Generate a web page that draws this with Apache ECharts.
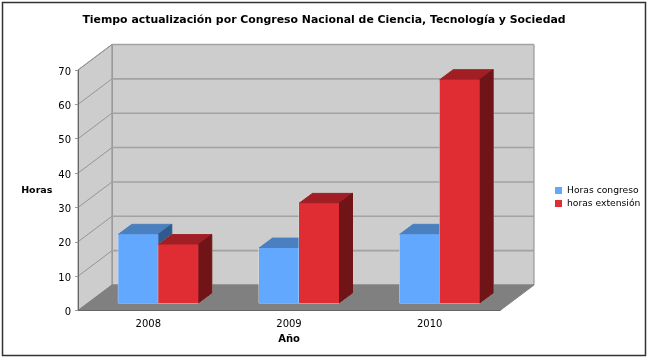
<!DOCTYPE html>
<html>
<head>
<meta charset="utf-8">
<style>
  html, body { margin: 0; padding: 0; background: #fff; }
  #main { width: 648px; height: 357px; }
</style>
<script src="https://cdn.jsdelivr.net/npm/echarts@6/dist/echarts.min.js"></script>
</head>
<body>
<div id="main"></div>
<script>
const years = ['2008', '2009', '2010'];
const horasCongreso = [20, 16, 20];
const horasExtension = [17, 29, 65];
const yTicks = [0, 10, 20, 30, 40, 50, 60, 70];

const font = '"DejaVu Sans", Verdana, sans-serif';
// depth of the fake 3d box and of the bars inside it
const boxDx = 34, boxDy = -25.5;
const barW = 40, barDx = 13.5, barDy = -10;
const barOffX = 10, barOffY = -7.5;

function renderBox(params, api) {
  const c = params.coordSys;
  const l = c.x, r = c.x + c.width, t = c.y, b = c.y + c.height;
  const poly = (pts, fill, stroke) => ({
    type: 'polygon',
    shape: {points: pts},
    style: {fill: fill, stroke: stroke, lineWidth: 1},
  });
  return {
    type: 'group',
    children: [
      poly([[l + boxDx, t + boxDy], [r + boxDx, t + boxDy], [r + boxDx, b + boxDy], [l + boxDx, b + boxDy]], '#cdcdcd', '#8a8a8a'),
      poly([[l, t], [l + boxDx, t + boxDy], [l + boxDx, b + boxDy], [l, b]], '#cdcdcd', '#8a8a8a'),
      poly([[l, b], [l + boxDx, b + boxDy], [r + boxDx, b + boxDy], [r, b]], '#808080', '#808080'),
    ],
  };
}

function renderGridLine(params, api) {
  const c = params.coordSys;
  const y = api.coord([0, api.value(0)])[1];
  if (api.value(0) === 0) return null;
  return {
    type: 'group',
    children: [
      {type: 'line', shape: {x1: c.x, y1: y, x2: c.x + boxDx, y2: y + boxDy}, style: {stroke: '#959595', lineWidth: 1}},
      {type: 'line', shape: {x1: c.x + boxDx, y1: y + boxDy, x2: c.x + c.width + boxDx, y2: y + boxDy}, style: {stroke: '#a2a2a2', lineWidth: 1.6}},
    ],
  };
}

function barRenderer(side, front, top, dark) {
  return function (params, api) {
    const p = api.coord([api.value(0), api.value(1)]);
    const base = api.coord([api.value(0), 0]);
    const x0 = p[0] + barOffX + (side < 0 ? -barW : 0);
    const x1 = x0 + barW;
    const yt = p[1] + barOffY;
    const yb = base[1] + barOffY;
    const poly = (pts, fill, stroke) => ({
      type: 'polygon',
      shape: {points: pts},
      style: {fill: fill, stroke: stroke, lineWidth: 1},
    });
    return {
      type: 'group',
      children: [
        poly([[x0, yt], [x0 + barDx, yt + barDy], [x1 + barDx, yt + barDy], [x1 + barDx, yb + barDy], [x1, yb], [x0, yb]], null, 'rgba(225,238,238,0.75)'),
        poly([[x0, yt], [x1, yt], [x1 + barDx, yt + barDy], [x0 + barDx, yt + barDy]], top, top),
        poly([[x1, yt], [x1 + barDx, yt + barDy], [x1 + barDx, yb + barDy], [x1, yb]], dark, dark),
        {type: 'rect', shape: {x: x0, y: yt, width: barW, height: yb - yt}, style: {fill: front}},
      ],
    };
  };
}

const chart = echarts.init(document.getElementById('main'), null, {renderer: 'canvas'});
chart.setOption({
  animation: false,
  backgroundColor: '#fff',
  title: {
    text: 'Tiempo actualización por Congreso Nacional de Ciencia, Tecnología y Sociedad',
    left: 'center',
    top: 10,
    textStyle: {fontFamily: font, fontSize: 10.9, fontWeight: 'bold', color: '#000'},
  },
  legend: {
    data: ['Horas congreso', 'horas extensión'],
    orient: 'vertical',
    left: 555,
    top: 186,
    padding: 0,
    itemWidth: 7,
    itemHeight: 7,
    itemGap: 4,
    icon: 'rect',
    textStyle: {fontFamily: font, fontSize: 9.2, color: '#000'},
  },
  grid: {left: 78, top: 70, width: 422, height: 240.5},
  xAxis: {
    type: 'category',
    data: years,
    name: 'Año',
    nameLocation: 'middle',
    nameGap: 22,
    nameTextStyle: {fontFamily: font, fontSize: 10, fontWeight: 'bold', color: '#000'},
    axisLine: {lineStyle: {color: '#666', width: 1}},
    axisTick: {length: 4, lineStyle: {color: '#c8c8c8'}, alignWithLabel: false},
    axisLabel: {fontFamily: font, fontSize: 10, color: '#000', margin: 9},
    splitLine: {show: false},
    z: 5,
  },
  yAxis: {
    type: 'value',
    min: 0,
    max: 70,
    interval: 10,
    name: 'Horas',
    nameLocation: 'middle',
    nameRotate: 0,
    nameGap: 23,
    nameTextStyle: {fontFamily: font, fontSize: 9.5, fontWeight: 'bold', color: '#000', padding: [5, 0, 0, 0]},
    axisLine: {show: true, lineStyle: {color: '#666', width: 1}},
    axisTick: {show: true, length: 3, lineStyle: {color: '#999'}},
    axisLabel: {
      margin: 7,
      formatter: '{n|{value}}',
      rich: {n: {fontFamily: font, fontSize: 10, color: '#000', padding: [4, 0, 0, 0]}},
    },
    splitLine: {show: false},
    z: 5,
  },
  series: [
    {type: 'custom', silent: true, clip: false, z: 1, data: [[0, 0]], renderItem: renderBox},
    {type: 'custom', silent: true, clip: false, z: 2, data: yTicks.map((v) => [v]), encode: {y: 0}, renderItem: renderGridLine},
    {
      name: 'Horas congreso',
      type: 'custom',
      clip: false,
      z: 3,
      itemStyle: {color: '#62a8ff'},
      encode: {x: 0, y: 1},
      data: years.map((y, i) => [i, horasCongreso[i]]),
      renderItem: barRenderer(-1, '#62a8ff', '#4a80bf', '#2f5a8c'),
    },
    {
      name: 'horas extensión',
      type: 'custom',
      clip: false,
      z: 4,
      itemStyle: {color: '#df2d33'},
      encode: {x: 0, y: 1},
      data: years.map((y, i) => [i, horasExtension[i]]),
      renderItem: barRenderer(1, '#df2d33', '#a11f24', '#701417'),
    },
  ],
  graphic: [{
    type: 'rect',
    z: 10,
    shape: {x: 2.5, y: 2.5, width: 643, height: 353},
    style: {fill: null, stroke: '#333', lineWidth: 1.5},
    silent: true,
  }],
});
</script>
</body>
</html>
